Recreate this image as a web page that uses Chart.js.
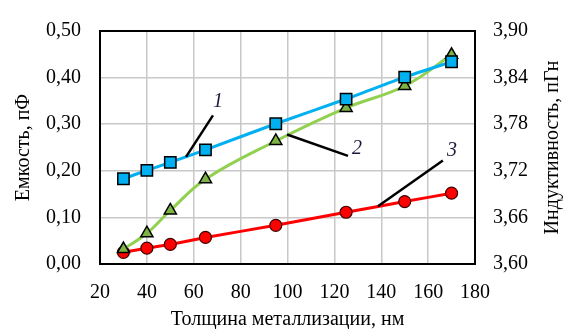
<!DOCTYPE html>
<html>
<head>
<meta charset="utf-8">
<script src="https://cdn.jsdelivr.net/npm/chart.js@4"></script>
<style>
  html, body { margin: 0; padding: 0; background: #fff; }
  #wrap { width: 568px; height: 329px; }
</style>
</head>
<body>
<div id="wrap"><canvas id="myChart"></canvas></div>
<script>
// толщина металлизации, нм
const thickness = [30, 40, 50, 65, 95, 125, 150, 170];
const series1 = [0.183, 0.201, 0.218, 0.245, 0.301, 0.354, 0.401, 0.434];
const series2 = [0.032, 0.066, 0.115, 0.182, 0.264, 0.335, 0.382, 0.449];
const series3 = [0.025, 0.034, 0.042, 0.057, 0.083, 0.111, 0.134, 0.152];
const xTicks = [20, 40, 60, 80, 100, 120, 140, 160, 180];
const leftTicks = [0, 0.1, 0.2, 0.3, 0.4, 0.5];
const rightTicks = [3.60, 3.66, 3.72, 3.78, 3.84, 3.90];

// выноски с номерами кривых (в координатах данных)
const callouts = [
    { label: '1', from: [68.2, 0.319], to: [56.7, 0.230], text: [70.3, 0.348] },
    { label: '2', from: [99.8, 0.278], to: [125.8, 0.232], text: [129.6, 0.248] },
    { label: '3', from: [166.3, 0.222], to: [138.6, 0.124], text: [170.2, 0.242] },
];

const serif = 'Liberation Serif, Times New Roman, serif';
const toPts = (ys) => thickness.map((x, i) => ({ x: x, y: ys[i] }));

const frame = {
    id: 'frame',
    afterDraw(chart) {
        const { ctx, chartArea: a, scales } = chart;
        ctx.save();
        ctx.strokeStyle = '#000';
        ctx.lineWidth = 2;
        ctx.strokeRect(a.left, a.top, a.right - a.left, a.bottom - a.top);

        // выноски
        ctx.lineWidth = 2.5;
        ctx.font = 'italic 20px ' + serif;
        ctx.fillStyle = '#1a1a3a';
        ctx.textAlign = 'center';
        ctx.textBaseline = 'middle';
        callouts.forEach(c => {
            ctx.beginPath();
            ctx.moveTo(scales.x.getPixelForValue(c.from[0]), scales.y.getPixelForValue(c.from[1]));
            ctx.lineTo(scales.x.getPixelForValue(c.to[0]), scales.y.getPixelForValue(c.to[1]));
            ctx.stroke();
            ctx.fillText(c.label, scales.x.getPixelForValue(c.text[0]), scales.y.getPixelForValue(c.text[1]));
        });

        // подпись правой оси
        ctx.font = '20px ' + serif;
        ctx.fillStyle = '#000';
        ctx.translate(553, (a.top + a.bottom) / 2);
        ctx.rotate(-Math.PI / 2);
        ctx.fillText('Индуктивность, пГн', 0, 0);
        ctx.restore();
    }
};

var myChart = new Chart(document.getElementById('myChart'), {
    type: 'line',
    data: {
        datasets: [
            {
                label: '1',
                data: toPts(series1),
                borderColor: '#00b0f0',
                backgroundColor: '#00b0f0',
                borderWidth: 3,
                tension: 0.2,
                pointStyle: 'rect',
                pointRadius: 8,
                pointBorderColor: '#000',
                pointBorderWidth: 1.5,
            },
            {
                label: '2',
                data: toPts(series2),
                borderColor: '#92d050',
                backgroundColor: '#7cb342',
                borderWidth: 3,
                tension: 0.4,
                pointStyle: 'triangle',
                pointRadius: 7,
                pointBorderColor: '#000',
                pointBorderWidth: 1.5,
            },
            {
                label: '3',
                data: toPts(series3),
                borderColor: '#ff0000',
                backgroundColor: '#ff0000',
                borderWidth: 3,
                tension: 0.1,
                pointStyle: 'circle',
                pointRadius: 6,
                pointBorderColor: '#400000',
                pointBorderWidth: 1.2,
            },
        ]
    },
    options: {
        responsive: true,
        maintainAspectRatio: false,
        animation: false,
        layout: { padding: { top: 18, left: 0, right: 0, bottom: 0 } },
        plugins: {
            legend: { display: false },
            tooltip: { enabled: false },
        },
        scales: {
            x: {
                type: 'linear',
                min: 20, max: 180,
                afterBuildTicks: s => { s.ticks = xTicks.map(v => ({ value: v })); },
                afterFit: s => { s.height = 65; },
                grid: { color: '#c8c8c8', lineWidth: 1.5, drawTicks: false },
                border: { display: false },
                ticks: { color: '#000', padding: 17, font: { family: serif, size: 20 } },
                title: {
                    display: true, text: 'Толщина металлизации, нм', color: '#000',
                    font: { family: serif, size: 20 }, padding: { top: 0, bottom: -3 }
                },
            },
            y: {
                position: 'left',
                min: 0, max: 0.5,
                afterBuildTicks: s => { s.ticks = leftTicks.map(v => ({ value: v })); },
                afterFit: s => { s.width = 100; },
                grid: { color: '#c8c8c8', lineWidth: 1.5, drawTicks: false },
                border: { display: false },
                ticks: {
                    color: '#000', padding: 19, font: { family: serif, size: 20 },
                    callback: v => v.toFixed(2).replace('.', ',')
                },
                title: {
                    display: true, text: 'Емкость, пФ', color: '#000',
                    font: { family: serif, size: 20 }, padding: { top: 12, bottom: 0 }
                },
            },
            y2: {
                position: 'right',
                min: 3.6, max: 3.9,
                afterBuildTicks: s => { s.ticks = rightTicks.map(v => ({ value: v })); },
                afterFit: s => { s.width = 93; },
                grid: { display: false, drawTicks: false },
                border: { display: false },
                ticks: {
                    color: '#000', padding: 18, font: { family: serif, size: 20 },
                    callback: v => v.toFixed(2).replace('.', ',')
                },
            },
        }
    },
    plugins: [frame]
});
</script>
</body>
</html>
